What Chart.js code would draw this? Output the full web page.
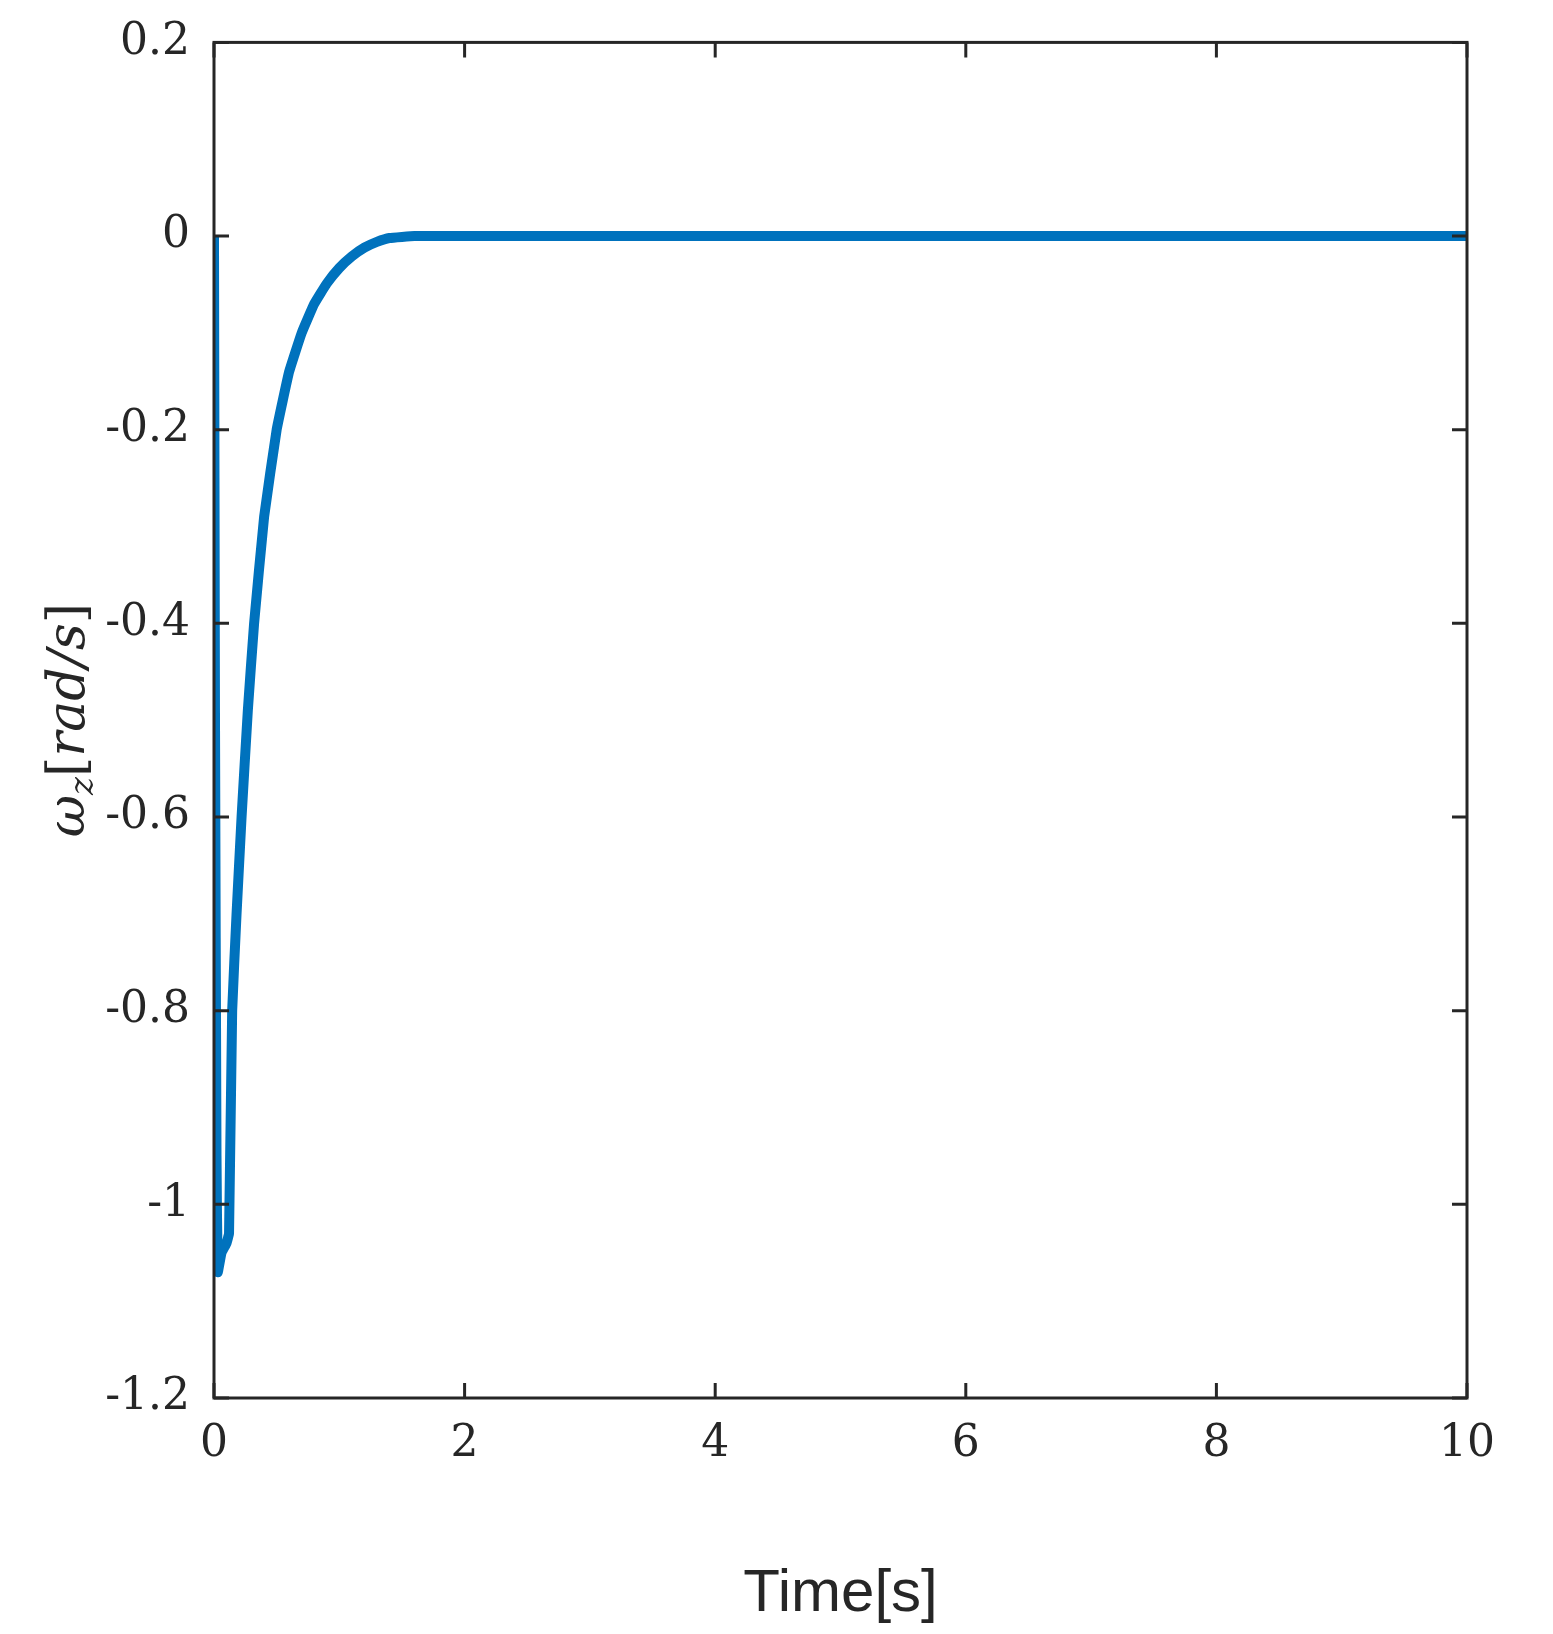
<!DOCTYPE html>
<html>
<head>
<meta charset="utf-8">
<script src="https://cdn.jsdelivr.net/npm/chart.js@4"></script>
<style>
  body { margin: 0; background: #fff; overflow: hidden; }
  #wrap { width: 1553px; height: 1634px; }
</style>
</head>
<body>
<div id="wrap"><canvas id="chart"></canvas></div>
<script>
let blue = '#0072BD';
let axisColor = '#262626';
let serif = '"DejaVu Serif", "Liberation Serif", serif';

// time [s] and omega_z [rad/s]
let timeValues = [0, 0.008, 0.02, 0.03, 0.06, 0.1, 0.12, 0.145, 0.18, 0.22, 0.27, 0.32, 0.4, 0.5, 0.6, 0.7, 0.8, 0.9, 1.0, 1.1, 1.2, 1.3, 1.4, 1.6, 2, 4, 6, 8, 10];
let omegaValues = [0, -0.5, -0.95, -1.07, -1.05, -1.04, -1.03, -0.8, -0.7, -0.6, -0.49, -0.4, -0.29, -0.2, -0.14, -0.1, -0.07, -0.049, -0.033, -0.021, -0.012, -0.006, -0.002, 0, 0, 0, 0, 0, 0];

let xTicks = [0, 2, 4, 6, 8, 10];
let yTicks = [0.2, 0, -0.2, -0.4, -0.6, -0.8, -1, -1.2];

// MATLAB-style box with inward ticks plus the subscripted y label
let boxPlugin = {
  id: 'box',
  afterDraw(chart) {
    let ctx = chart.ctx;
    let a = chart.chartArea;
    let xs = chart.scales.x, ys = chart.scales.y;
    let len = 15;
    ctx.save();
    ctx.strokeStyle = axisColor;
    ctx.lineWidth = 3;
    ctx.strokeRect(a.left, a.top, a.right - a.left, a.bottom - a.top);
    ctx.beginPath();
    xTicks.forEach(v => {
      let px = xs.getPixelForValue(v);
      ctx.moveTo(px, a.bottom); ctx.lineTo(px, a.bottom - len);
      ctx.moveTo(px, a.top); ctx.lineTo(px, a.top + len);
    });
    yTicks.forEach(v => {
      let py = ys.getPixelForValue(v);
      ctx.moveTo(a.left, py); ctx.lineTo(a.left + len, py);
      ctx.moveTo(a.right, py); ctx.lineTo(a.right - len, py);
    });
    ctx.stroke();

    // y label: ω_z[rad/s]
    ctx.translate(68, (a.top + a.bottom) / 2);
    ctx.rotate(-Math.PI / 2);
    ctx.fillStyle = axisColor;
    ctx.textBaseline = 'alphabetic';
    let big = 'italic 52px ' + serif, small = 'italic 34px ' + serif, normal = '52px ' + serif;
    let parts = [['ω', big, 0], ['z', small, 9], ['[', normal, 0], ['rad/s', big, 0], [']', normal, 0]];
    let total = 0;
    parts.forEach(p => { ctx.font = p[1]; total += ctx.measureText(p[0]).width; });
    let x = -total / 2;
    parts.forEach(p => {
      ctx.font = p[1];
      ctx.fillText(p[0], x, 16 + p[2]);
      x += ctx.measureText(p[0]).width;
    });
    ctx.restore();
  }
};

new Chart('chart', {
  type: 'scatter',
  data: {
    datasets: [{
      data: timeValues.map((t, i) => ({x: t, y: omegaValues[i]})),
      showLine: true,
      borderColor: blue,
      borderWidth: 10,
      pointRadius: 0,
      tension: 0.1
    }]
  },
  options: {
    responsive: true,
    maintainAspectRatio: false,
    animation: false,
    layout: { padding: { top: 30, right: 86, left: 0, bottom: 0 } },
    plugins: { legend: { display: false }, tooltip: { enabled: false } },
    scales: {
      x: {
        type: 'linear', min: 0, max: 10,
        afterBuildTicks: s => { s.ticks = xTicks.map(v => ({value: v})); },
        afterFit: s => { s.height = 236; },
        grid: { display: false },
        border: { display: false },
        ticks: { color: axisColor, font: { family: serif, size: 44 }, padding: 12, maxRotation: 0 },
        title: { display: true, text: 'Time[s]', color: axisColor, font: { family: '"Liberation Sans", Arial, sans-serif', size: 60 }, padding: { top: 10 } }
      },
      y: {
        type: 'linear', min: -1.2, max: 0.2,
        afterBuildTicks: s => { s.ticks = yTicks.map(v => ({value: v})); },
        afterFit: s => { s.width = 214; },
        grid: { display: false },
        border: { display: false },
        ticks: { color: axisColor, font: { family: serif, size: 44 }, padding: 16, callback: v => String(Math.round(v * 10) / 10) }
      }
    }
  },
  plugins: [boxPlugin]
});
</script>
</body>
</html>
